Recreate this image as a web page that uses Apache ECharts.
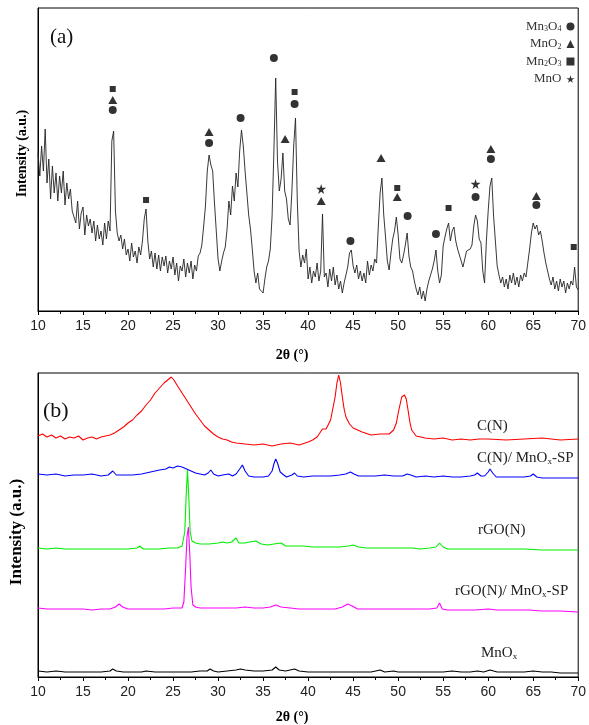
<!DOCTYPE html>
<html><head><meta charset="utf-8">
<script src="https://cdn.jsdelivr.net/npm/echarts/dist/echarts.min.js"></script>
<style>html,body{margin:0;padding:0;background:#fff}#c{width:589px;height:725px}</style>
</head><body><div id="c"></div>
<script>
// ---------- Panel (a): XRD pattern of MnOx (sampled every 0.2 deg from 10 deg) ----------
const topStart = 10, topStep = 0.2;
const topIntensity = [
158,135,165,140,182,128,152,112,145,118,
138,110,135,118,140,106,128,112,122,100,
102,88,110,82,98,104,76,96,85,92,
78,90,70,86,72,80,66,88,72,90,
80,170,180,100,78,70,76,62,72,56,
62,50,68,54,60,48,64,56,70,92,
102,70,52,60,44,58,42,56,40,54,
45,55,38,50,42,54,36,48,30,45,
40,52,34,48,38,50,32,46,40,55,
58,66,85,105,140,156,146,140,108,80,
52,40,50,58,64,82,110,96,125,110,
138,124,160,181,165,140,118,96,82,62,
40,28,38,22,24,18,32,44,50,62,
95,160,233,150,120,132,158,120,112,92,
86,120,165,193,110,60,44,56,48,62,
32,44,28,40,34,48,30,40,97,34,
38,24,42,30,44,26,36,22,30,18,
28,36,44,58,61,45,38,46,32,40,
30,38,28,50,36,46,40,52,48,85,
118,133,96,74,50,41,58,72,80,94,
76,52,48,56,66,78,55,44,40,30,
22,16,24,12,20,10,22,30,36,42,
50,61,40,28,36,65,74,82,88,70,
80,84,70,62,56,50,44,52,60,58,
62,66,85,96,90,72,68,40,28,70,
100,125,133,95,70,45,36,28,34,24,
32,22,36,28,38,26,34,24,36,30,
38,34,48,62,78,88,82,86,76,80,
70,58,48,40,32,26,34,22,30,20,
32,24,30,18,28,22,30,26,44,24,
21
];
// phase markers [2theta, height]
const mn3o4Marks = [[18.3,201],[29.0,168],[32.5,193],[36.2,253],[38.5,207],[44.7,70],[51.05,95],[54.2,77],[58.6,114],[60.3,152],[65.35,106]];
const mno2Marks  = [[18.3,211],[29.0,179],[37.45,172],[41.45,110],[48.1,153],[49.9,114],[60.3,162],[65.35,115]];
const mn2o3Marks = [[18.3,222],[22.0,111],[38.5,219],[49.9,123],[55.6,103],[69.5,64]];
const mnoMarks   = [[41.45,122],[58.6,127]];

// ---------- Panel (b): stacked XRD patterns ----------
const curveCN = [[10,241],[10.5,243],[11,240],[11.5,242],[12,239],[12.5,241],[13,238],[13.5,240],[14,239],[14.5,241],[15,237],[15.5,239],[16,240],[16.5,238],[17,240],[17.5,241],[18,242],[18.5,244],[19,247],[19.5,250],[20,254],[20.5,257],[21,262],[21.5,266],[22,272],[22.5,277],[23,284],[23.5,289],[24,294],[24.4,297],[24.8,300],[25.1,297],[25.5,291],[26,284],[26.5,277],[27,270],[27.5,263],[28,257],[28.5,251],[29,247],[29.5,243],[30,240],[30.5,238],[31,237],[31.5,235],[32,234],[33,233],[34,232],[35,233],[36,231],[37,233],[38,234],[39,232],[40,235],[40.5,237],[41,240],[41.6,248],[42,248],[42.5,257],[43,280],[43.2,294],[43.4,302],[43.6,294],[43.8,280],[44,268],[44.2,260],[44.6,253],[45,249],[46,245],[47,242],[48,243],[49,243],[49.5,247],[49.8,254],[50.1,268],[50.4,280],[50.7,282],[50.9,278],[51.1,267],[51.3,255],[51.5,247],[52,241],[53,239],[54,238],[55,239],[56,237],[57,238],[58,237],[59,238],[60,238],[62,237],[64,238],[66,239],[68,237],[70,238]];
const curveCNMn = [[10,203],[11,202],[12,203],[13,201],[14,202],[15,202],[16,203],[17,201],[17.8,202],[18.3,206],[18.7,202],[19.5,202],[20.5,202],[21.5,203],[22.5,205],[23.5,207],[24.2,208],[24.6,210],[25,209],[25.5,211],[26,210],[26.5,208],[27,206],[27.5,204],[28.5,202],[28.9,204],[29.2,207],[29.5,203],[30,201],[30.5,202],[31.2,203],[31.6,201],[32,203],[32.4,208],[32.7,212],[33,206],[33.4,201],[34,200],[35,200],[35.6,201],[36,206],[36.2,213],[36.4,218],[36.6,214],[36.9,205],[37.3,202],[37.6,200],[38.2,202],[38.5,204],[38.8,201],[39.5,200],[40.5,201],[41.5,201],[42.5,201],[43.5,202],[44.2,203],[44.7,205],[45.1,203],[45.6,201],[46.5,201],[47.5,201],[48.5,202],[49.5,201],[50.5,201],[51,203],[51.4,202],[52,200],[53,201],[54,200],[55,201],[56,200],[57,200],[58,201],[58.5,202],[58.8,204],[59.2,201],[59.6,201],[60,205],[60.2,208],[60.5,204],[60.9,200],[62,200],[63,200],[64,200],[64.7,201],[65,203],[65.4,200],[66,199],[67,199],[68,199],[69,199],[70,199]];
const curveRGO = [[10,129],[11,128],[12,129],[13,128],[14,128],[15,128],[16,128],[17,128],[18,128],[19,128],[20,128],[21,129],[21.3,131],[21.7,128],[22.5,128],[23.5,128],[24.5,129],[25.5,129],[26,131],[26.3,145],[26.45,180],[26.6,207],[26.75,180],[26.9,145],[27.1,136],[27.5,134],[28,133],[29,133],[30,134],[30.5,135],[31,134],[31.5,135],[32,139],[32.3,134],[33,134],[33.5,135],[34.2,136],[34.8,133],[35.5,132],[36.2,133],[37,134],[37.5,131],[38.5,131],[39.5,131],[40.5,130],[41.5,130],[42.5,130],[43.5,130],[44.5,131],[45,132],[45.6,130],[46.5,129],[47.5,129],[48.5,129],[49.5,129],[50.5,129],[51.5,129],[52.5,128],[53.5,129],[54.2,130],[54.6,134],[55,130],[55.5,128],[56.5,128],[58,128],[60,128],[62,128],[64,128],[66,127],[68,127],[70,127]];
const curveRGOMn = [[10,69],[11,68],[12,68],[13,68],[14,68],[15,68],[16,67],[17,68],[18,68],[18.6,70],[19,73],[19.4,70],[20,68],[21,68],[22,68],[23,68],[24,68],[25,69],[26,69],[26.2,75],[26.4,110],[26.55,140],[26.7,150],[26.85,125],[27.0,90],[27.2,72],[27.5,70],[28,69],[29,69],[30,69],[31,69],[32,69],[33,70],[34,69],[35,69],[35.8,70],[36.4,72],[37,70],[38,69],[39,68],[40,68],[41,68],[42,68],[43,68],[43.8,70],[44.4,73],[44.9,71],[45.5,68],[46.5,68],[48,68],[50,68],[52,68],[53.5,68],[54.3,69],[54.6,74],[54.9,68],[55.5,67],[57,67],[58.5,67],[60,68],[61,67],[62,67],[63,67],[64.5,67],[66,66],[68,66],[70,65]];
const curveMnOx = [[10,6],[11,5],[12,6],[13,5],[14,5],[15,5],[16,5],[17,5],[18,6],[18.3,8],[18.7,6],[19.5,5],[20.5,5],[21.5,5],[22,6],[23,5],[24,5],[25,5],[26,5],[27,5],[28,6],[28.8,6],[29.1,8],[29.5,6],[30,5],[31,6],[32,7],[32.5,8],[33,7],[34,6],[35,6],[36,7],[36.4,10],[36.8,7],[37.5,6],[38.5,8],[39,6],[40,5],[41,5],[42,5],[43,5],[44,5],[45,5],[46,5],[47,5],[48,7],[48.5,5],[49.5,6],[50,5],[51,5],[52,5],[53,5],[54,5],[55,5],[56,6],[57,5],[58,5],[58.8,6],[59.5,5],[60.2,7],[61,5],[62,5],[63,5],[64,5],[65,6],[66,5],[67,5],[68,4],[69,4],[70,4]];

const xTicks = ['10','15','20','25','30','35','40','45','50','55','60','65','70'];

const SERIF = 'Liberation Serif';
const SANS = 'Liberation Sans';
const STAR = 'path://M50,0 L61,35 L98,35 L68,57 L79,91 L50,70 L21,91 L32,57 L2,35 L39,35 Z';

const topData = topIntensity.map((v, i) => [+(topStart + i * topStep).toFixed(1), v]);

function xAxisCfg(gridIndex, nameGap) {
  return {
    type: 'value', gridIndex, min: 10, max: 70, interval: 5,
    name: '2θ (°)', nameLocation: 'middle', nameGap,
    nameTextStyle: { fontFamily: SERIF, fontWeight: 'bold', fontSize: 14, color: '#000', padding: [0, 32, 0, 0] },
    axisLine: { show: true, lineStyle: { color: '#000', width: 1 } },
    axisTick: { show: true, length: 4, inside: false, lineStyle: { color: '#000' } },
    minorTick: { show: true, splitNumber: 2, length: 3, lineStyle: { color: '#000' } },
    splitLine: { show: false },
    axisLabel: { fontFamily: SANS, fontSize: 14, color: '#222', margin: 8,
      formatter: v => xTicks[Math.round((v - 10) / 5)] },
  };
}
function yAxisCfg(gridIndex, max, nameGap, fontSize, pad) {
  return {
    type: 'value', gridIndex, min: 0, max,
    name: 'Intensity (a.u.)', nameLocation: 'middle', nameGap, nameRotate: 90,
    nameTextStyle: { fontFamily: SERIF, fontWeight: 'bold', fontSize, color: '#000', padding: pad },
    axisLine: { show: true, lineStyle: { color: '#000' } },
    axisTick: { show: false }, axisLabel: { show: false }, splitLine: { show: false },
  };
}
function subFmt(name) {
  return {
    'Mn3O4': '{a|Mn}{b|3}{a|O}{b|4}',
    'MnO2': '{a|MnO}{b|2}',
    'Mn2O3': '{a|Mn}{b|2}{a|O}{b|3}',
    'MnO': '{a|MnO}'
  }[name];
}
function markSeries(name, data, symbol, size) {
  return { name, type: 'scatter', xAxisIndex: 0, yAxisIndex: 0, data, symbol, symbolSize: size,
    itemStyle: { color: '#000' }, z: 5 };
}
function curve(data, color) {
  return { type: 'line', xAxisIndex: 1, yAxisIndex: 1, data, showSymbol: false, symbol: 'none',
    lineStyle: { color, width: 1.1 }, itemStyle: { color }, animation: false };
}
const lab = (left, top, text, size) => ({
  type: 'text', left, top,
  style: { text, font: `${size}px "${SERIF}"`, fill: '#222',
    rich: { a: { fontFamily: SERIF, fontSize: size, fill: '#222' }, b: { fontFamily: SERIF, fontSize: size * 0.6, fill: '#222', padding: [size * 0.45, 0, 0, 0] } } }
});

const chart = echarts.init(document.getElementById('c'), null, { renderer: 'canvas' });
chart.setOption({
  animation: false,
  backgroundColor: '#fff',
  grid: [
    { left: 38, right: 7, top: 8, height: 303, show: true, borderColor: '#000', borderWidth: 1, backgroundColor: 'transparent' },
    { left: 38, right: 7, top: 373, height: 304, show: true, borderColor: '#000', borderWidth: 1, backgroundColor: 'transparent' }
  ],
  xAxis: [xAxisCfg(0, 37), xAxisCfg(1, 33)],
  yAxis: [yAxisCfg(0, 303, 9, 14, [0, 0, 0, 12]), yAxisCfg(1, 304, 13, 17, [0, 14, 0, 0])],
  legend: {
    orient: 'vertical', left: 521, top: 15, itemGap: 4.5, align: 'right',
    itemWidth: 8, itemHeight: 8, selectedMode: false,
    data: [
      { name: 'Mn3O4', icon: 'circle' },
      { name: 'MnO2', icon: 'triangle' },
      { name: 'Mn2O3', icon: 'rect' },
      { name: 'MnO', icon: STAR }
    ],
    formatter: subFmt,
    textStyle: { width: 41, fontFamily: SERIF, fontSize: 13, color: '#333',
      rich: { a: { fontFamily: SERIF, fontSize: 13, color: '#333' }, b: { fontFamily: SERIF, fontSize: 8, color: '#333', padding: [5, 0, 0, 0] } } }
  },
  graphic: [
    { type: 'text', left: 50, top: 27, style: { text: '(a)', font: `21px "${SERIF}"`, fill: '#111' } },
    { type: 'text', left: 43, top: 400, style: { text: '(b)', font: `22px "${SERIF}"`, fill: '#111' } },
    lab(477, 419, '{a|C(N)}', 15),
    lab(477, 451, '{a|C(N)/ MnO}{b|x}{a|-SP}', 15),
    lab(478, 523, '{a|rGO(N)}', 15),
    lab(455, 584, '{a|rGO(N)/ MnO}{b|x}{a|-SP}', 15),
    lab(481, 646, '{a|MnO}{b|x}', 15)
  ],
  series: [
    { type: 'line', xAxisIndex: 0, yAxisIndex: 0, data: topData, showSymbol: false, symbol: 'none',
      lineStyle: { color: '#222', width: 0.9 }, z: 2 },
    markSeries('Mn3O4', mn3o4Marks, 'circle', 8),
    markSeries('MnO2', mno2Marks, 'triangle', [9, 8]),
    markSeries('Mn2O3', mn2o3Marks, 'rect', 6),
    markSeries('MnO', mnoMarks, STAR, 10),
    curve(curveCN, '#ff0000'),
    curve(curveCNMn, '#0000ff'),
    curve(curveRGO, '#00ee00'),
    curve(curveRGOMn, '#ff00ff'),
    curve(curveMnOx, '#000000')
  ]
});
</script>
</body></html>
